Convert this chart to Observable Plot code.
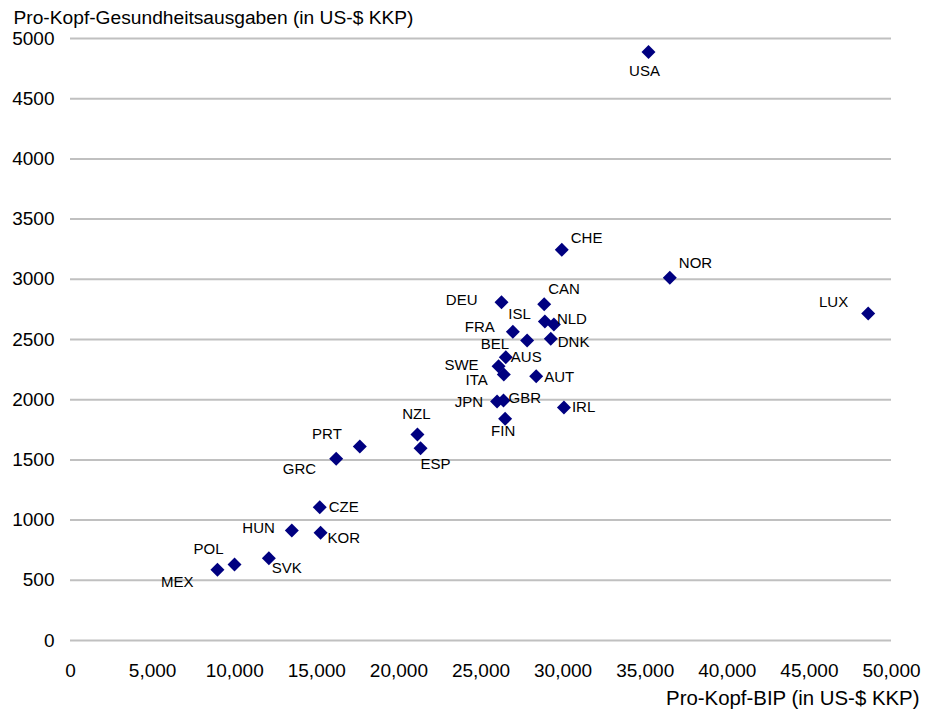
<!DOCTYPE html>
<html>
<head>
<meta charset="utf-8">
<script src="https://cdn.jsdelivr.net/npm/d3@7"></script>
<script src="https://cdn.jsdelivr.net/npm/@observablehq/plot@0.6"></script>
<style>
  html, body { margin: 0; padding: 0; background: #fff; }
  #chart { width: 925px; height: 711px; }
</style>
</head>
<body>
<div id="chart"></div>
<script>
// Data
const countries = ["USA","NOR","LUX","CHE","CAN","DEU","ISL","NLD","FRA","BEL","DNK","AUS","SWE","ITA","AUT","JPN","GBR","IRL","FIN","NZL","ESP","PRT","GRC","CZE","HUN","KOR","SVK","POL","MEX"];
const gdpPerCapita = [35200,36500,48580,29920,28850,26250,28890,29440,26940,27810,29250,26510,26070,26390,28360,25980,26370,30050,26470,21130,21320,17620,16180,15180,13480,15230,12080,9990,8950];
const healthPerCapita = [4887,3012,2716,3245,2793,2810,2650,2625,2564,2492,2506,2353,2278,2209,2195,1985,1993,1935,1841,1711,1597,1611,1509,1107,914,894,684,631,587];
const xTicks = [0,5000,10000,15000,20000,25000,30000,35000,40000,45000,50000];
const yTicks = [0,500,1000,1500,2000,2500,3000,3500,4000,4500,5000];
const yTitle = "Pro-Kopf-Gesundheitsausgaben (in US-$ KKP)";
const xTitle = "Pro-Kopf-BIP (in US-$ KKP)";

// Annotation placement of each country label: [textAnchor, dx, dy]
const labelPlacement = {
  USA:["middle",-4,19], NOR:["start",9,-15], LUX:["end",-20,-11], CHE:["start",9,-12],
  CAN:["start",4,-15], DEU:["end",-24,-2], ISL:["end",-14,-7], NLD:["start",3,-5],
  FRA:["end",-18,-5], BEL:["end",-18,4], DNK:["start",7,3], AUS:["start",5,0],
  SWE:["end",-20,-1], ITA:["end",-16,6], AUT:["start",8,1], JPN:["end",-14,1],
  GBR:["start",5,-2], IRL:["start",8,0], FIN:["middle",-2,12], NZL:["middle",-1,-20],
  ESP:["start",0,16], PRT:["end",-18,-12], GRC:["end",-20,10], CZE:["start",9,0],
  HUN:["end",-17,-2], KOR:["start",7,5], SVK:["start",3,10], POL:["end",-11,-15],
  MEX:["end",-24,12]
};

const data = countries.map((c, i) => ({country: c, gdp: gdpPerCapita[i], health: healthPerCapita[i]}));

const labelMarks = data.map(d => {
  const [anchor, dx, dy] = labelPlacement[d.country];
  return Plot.text([d], {x: "gdp", y: "health", text: "country", textAnchor: anchor, dx, dy, fontSize: 15, fill: "#000"});
});

const chart = Plot.plot({
  width: 925,
  height: 711,
  marginLeft: 70,
  marginRight: 34,
  marginTop: 38,
  marginBottom: 71,
  style: {fontFamily: "'Liberation Sans', Arial, sans-serif", fontSize: "19px", background: "#fff", color: "#000"},
  x: {domain: [0, 50000], ticks: xTicks, tickFormat: d3.format(","), tickSize: 0, tickPadding: 23, label: null},
  y: {domain: [0, 5000], ticks: yTicks, tickFormat: d => String(d), tickSize: 0, tickPadding: 16, label: null},
  marks: [
    Plot.ruleY(yTicks, {stroke: "#c0c0c0", strokeWidth: 2}),
    Plot.dot(data, {x: "gdp", y: "health", symbol: "diamond2", r: 6.3, fill: "#000080", stroke: "none"}),
    ...labelMarks,
    Plot.text([yTitle], {frameAnchor: "top-left", text: d => d, textAnchor: "start", lineAnchor: "middle", dx: -57, dy: -21, fontSize: 19.2, fill: "#000"}),
    Plot.text([xTitle], {frameAnchor: "bottom-right", text: d => d, textAnchor: "end", lineAnchor: "middle", dx: 28, dy: 58, fontSize: 20.4, fill: "#000"})
  ]
});
document.getElementById("chart").appendChild(chart);
</script>
</body>
</html>
